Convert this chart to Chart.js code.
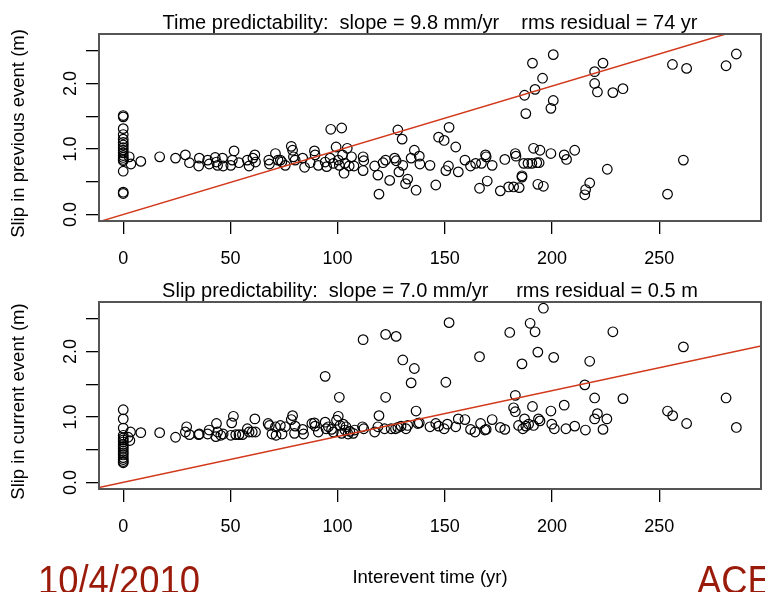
<!DOCTYPE html>
<html>
<head>
<meta charset="utf-8">
<script src="https://cdn.jsdelivr.net/npm/chart.js@4.4.1/dist/chart.umd.min.js"></script>
<style>
html, body { margin: 0; padding: 0; background: #fff; overflow: hidden; }
#wrap { position: relative; width: 765px; height: 592px; overflow: hidden; }
canvas { position: absolute; left: 0; }
#top { top: 0; }
#bottom { top: 268px; }
.stamp { position: absolute; font-family: "Liberation Sans", Arial, sans-serif; font-size: 40px; line-height: 1;
  color: #9b1b0b; white-space: nowrap; transform: scaleX(0.91); transform-origin: left top; }
</style>
</head>
<body>
<div id="wrap">
  <canvas id="top" width="767" height="268"></canvas>
  <canvas id="bottom" width="767" height="324"></canvas>
  <div class="stamp" style="left:38px; top:560px;">10/4/2010</div>
  <div class="stamp" style="left:697px; top:560px;">ACE</div>
</div>
<script>
// interevent time (yr) vs slip in previous event (m)
const prevTime = [
  0, 0, 0, 0, 0, 0, 0, 0, 0, 0, 0, 0, 0, 0, 0, 0, 0,
  2.8, 3.6, 8.2, 17, 24.4,
  29.0, 30.9, 35.5, 35.2, 39.4, 40.1, 42.9, 43.5, 44, 46.3,
  46.6, 50.2, 51.7, 50.9, 54, 57.9, 58.7, 60.5, 61.4, 61.7,
  67.9, 68.2, 71, 72.2, 73.3, 74, 75.6, 78.4, 79, 79.4,
  80.2, 83.7, 84.6, 87.2, 89.2, 89.5, 91,
  94.2, 94.9, 96.5, 96.8, 98, 99.3, 100.3, 100.8, 101.9, 102.3,
  103, 103.4, 104.5, 105.4, 106.5, 107.6, 111.9, 111.9, 112.2, 117.3,
  118.8, 119.3, 121.2, 122.4, 124.3, 126.6, 127.3, 128.1, 128.6, 130.1,
  130.4, 131.7, 132.7, 134.3, 135.8, 136.6, 138.1, 138.4, 143.1, 145.8,
  147.1, 149.7, 150.5, 151.7, 152, 155.1, 156.3, 159.4, 162, 164.4,
  166.2, 167.1, 169, 169.3, 169.8, 172.1, 175.9, 178, 179.8, 182.1,
  182.9, 183.2, 184.7, 186, 186, 186.8, 187.2, 187.8, 188.8, 190.6,
  190.9, 191.4, 192.1, 192.9, 193.4, 194, 194.4, 195.6, 196,
  200.6, 200.6, 199.5, 199.5, 205.7, 206.8, 210.6, 217.6, 215.7, 215.3,
  219.9, 223.8, 219.9, 221.2, 228.4, 233.1, 225.8, 256.2, 262.8, 261.3,
  253.9, 281.2, 286
];
const prevSlip = [
  1.51, 1.49, 1.31, 1.22, 1.15, 1.10, 1.06, 1.02, 0.98, 0.94, 0.90, 0.87, 0.84, 0.82, 0.66, 0.34, 0.32,
  0.88, 0.77, 0.81, 0.88, 0.86,
  0.91, 0.79, 0.86, 0.74, 0.83, 0.77, 0.87, 0.80, 0.75, 0.86,
  0.74, 0.75, 0.97, 0.83, 0.79, 0.83, 0.74, 0.86, 0.91, 0.80,
  0.83, 0.77, 0.93, 0.83, 0.83, 0.80, 0.75, 1.04, 0.98, 0.88,
  0.83, 0.86, 0.72, 0.79, 0.97, 0.91, 0.75,
  0.80, 0.73, 0.86, 1.30, 0.78, 1.03, 0.83, 0.75, 1.32, 0.91,
  0.63, 0.78, 1.01, 0.74, 0.88, 0.74, 0.88, 0.67, 0.82, 0.74,
  0.60, 0.31, 0.79, 0.83, 0.52, 0.86, 0.82, 1.29, 0.65, 1.15,
  0.75, 0.47, 0.54, 0.86, 0.98, 0.37, 0.89, 0.77, 0.75, 0.45,
  1.18, 1.13, 0.67, 0.74, 1.33, 1.03, 0.65, 0.83, 0.74, 0.78,
  0.40, 0.78, 0.91, 0.88, 0.51, 0.75, 0.36, 0.84, 0.42, 0.42,
  0.93, 0.89, 0.41, 0.59, 0.57, 0.78, 1.82, 1.54, 0.78, 0.78,
  2.31, 1.01, 1.91, 0.79, 0.46, 0.79, 0.98, 2.08, 0.43,
  2.44, 1.74, 1.62, 0.93, 0.91, 0.84, 0.98, 0.48, 0.38, 0.30,
  2.18, 2.31, 2.00, 1.87, 1.86, 1.92, 0.69, 2.29, 2.23, 0.83,
  0.31, 2.27, 2.45
];

// interevent time (yr) vs slip in current event (m)
const currTime = [
  0, 0, 0, 0, 0, 0, 0, 0, 0, 0, 0, 0, 0, 0, 0, 0, 0,
  2.3, 3.1, 3.4, 8.2, 17, 24.4,
  29, 29.6, 30.9, 35.2, 35.5, 39.4, 40.1, 43.2, 43.5, 44,
  45.5, 46.6, 50.2, 50.6, 51.4, 52.5, 54, 55.6, 57.9, 58.7,
  60.2, 61.4, 61.7, 67.6, 68.2, 69.4, 71, 71.3, 73.3, 74.1,
  75.6, 78.4, 79, 80.2, 79.9, 83.7, 84.1, 88, 89.2, 89.5, 91,
  94.2, 94.2, 94.6, 95.7, 97.2, 98, 99.5, 100.3, 100.8, 101.1,
  101.9, 102.6, 103.4, 103.9, 104.9, 105.7, 107.3, 108, 111.6, 111.9,
  112.2, 117.3, 118.8, 119.3, 121.9, 122.4, 122.4, 125, 127, 127.3,
  128.1, 129.6, 130.4, 131.9, 132.7, 134.3, 135.8, 136.6, 137.4, 138.1,
  143.1, 145.8, 147.1, 149.7, 150.5, 151.2, 152, 155.1, 156.3, 159.4,
  162, 164.1, 166.2, 166.7, 168.7, 169.3, 172.1, 175.9, 178, 180.3,
  182.1, 182.9, 182.9, 184.4, 186, 186.4, 187.2, 187.8, 189.1, 189.8,
  190.9, 191.4, 192.1, 193.4, 193.7, 194.4, 196,
  200.8, 217.6, 228.4, 261.3, 215.3, 199.5, 205.7, 199.9, 201.1, 206.5,
  210.6, 215.6, 219.9, 221.2, 219.9, 225.6, 223.8, 233.1, 253.9, 256.3,
  262.8, 281.2, 286
];
const currSlip = [
  1.11, 0.97, 0.83, 0.72, 0.68, 0.65, 0.62, 0.58, 0.55, 0.52, 0.48, 0.45, 0.42, 0.38, 0.35, 0.32, 0.30,
  0.69, 0.64, 0.77, 0.76, 0.76, 0.69,
  0.77, 0.85, 0.73, 0.73, 0.74, 0.74, 0.80, 0.70, 0.90, 0.77,
  0.72, 0.74, 0.72, 0.91, 1.01, 0.73, 0.73, 0.73, 0.82, 0.77,
  0.77, 0.97, 0.77, 0.90, 0.87, 0.74, 0.85, 0.72, 0.87, 0.74,
  0.85, 0.96, 1.02, 0.86, 0.75, 0.81, 0.74, 0.90, 0.91, 0.86, 0.77,
  1.62, 0.92, 0.82, 0.85, 0.81, 0.77, 0.95, 1.01, 1.30, 0.87,
  0.75, 0.89, 0.80, 0.85, 0.74, 0.78, 0.75, 0.80, 0.85, 2.18,
  0.82, 0.77, 0.85, 1.02, 0.82, 1.30, 2.26, 0.82, 0.82, 2.23,
  0.84, 0.86, 1.87, 0.82, 0.87, 1.52, 1.74, 1.09, 0.90, 0.91,
  0.85, 0.90, 0.86, 0.82, 1.53, 0.89, 2.44, 0.85, 0.97, 0.96,
  0.81, 0.77, 1.92, 0.90, 0.80, 0.81, 0.96, 0.84, 0.81, 2.29,
  1.14, 1.33, 1.08, 0.87, 1.81, 0.82, 0.97, 0.86, 0.89, 2.43,
  1.16, 0.87, 2.30, 1.99, 0.97, 0.94, 2.66,
  1.91, 1.85, 2.30, 2.07, 1.49, 1.09, 1.18, 0.89, 0.82, 0.82,
  0.86, 0.80, 1.29, 1.05, 0.97, 0.97, 0.81, 1.28, 1.09, 1.02,
  0.90, 1.29, 0.84
];

const prevSlope = 0.0098;   // m/yr
const currSlope = 0.0070;

const xTicks = [0, 50, 100, 150, 200, 250];
const yTicks = [0, 0.5, 1, 1.5, 2, 2.5];
const yTickLabels = ["0.0", "", "1.0", "", "2.0", ""];

const xMin = -11.3, xMax = 297.5;
const yMin = -0.1, yMax = 2.755;

const fontFamily = '"Liberation Sans", Arial, Helvetica, sans-serif';
Chart.defaults.font.family = fontFamily;
Chart.defaults.color = "#000";

const boxPlugin = {
  id: "box",
  afterDatasetsDraw(chart) {
    const a = chart.chartArea, ctx = chart.ctx;
    ctx.save();
    ctx.strokeStyle = "#555";
    ctx.lineWidth = 2;
    ctx.strokeRect(a.left, a.top, a.right - a.left, a.bottom - a.top);
    ctx.restore();
  }
};

// R writes y labels and the y title along the axis
const yTextPlugin = {
  id: "yText",
  afterDraw(chart, args, opts) {
    const s = chart.scales.y, a = chart.chartArea, ctx = chart.ctx;
    ctx.save();
    ctx.fillStyle = "#000";
    ctx.textAlign = "center";
    ctx.textBaseline = "middle";
    ctx.font = "18px " + fontFamily;
    for (let i = 0; i < yTicks.length; i++) {
      if (!yTickLabels[i]) continue;
      ctx.save();
      ctx.translate(71, s.getPixelForValue(yTicks[i]));
      ctx.rotate(-Math.PI / 2);
      ctx.fillText(yTickLabels[i], 0, 0);
      ctx.restore();
    }
    ctx.font = "18.5px " + fontFamily;
    ctx.translate(19, (a.top + a.bottom) / 2 + 6);
    ctx.rotate(-Math.PI / 2);
    ctx.fillText(opts.text, 0, 0);
    ctx.restore();
  }
};

function makePanel(id, times, slips, slope, title, yTitle, xTitle, xHeight) {
  let pts = [];
  for (let i = 0; i < times.length; i++) {
    pts.push({ x: times[i], y: slips[i] });
  }
  let fit = [{ x: xMin, y: slope * xMin }, { x: xMax, y: slope * xMax }];

  new Chart(document.getElementById(id), {
    type: "scatter",
    data: {
      datasets: [
        {
          data: fit,
          showLine: true,
          borderColor: "#d2381a",
          borderWidth: 1.5,
          pointRadius: 0,
          order: 0
        },
        {
          data: pts,
          pointStyle: "circle",
          pointRadius: 4.8,
          backgroundColor: "rgba(0,0,0,0)",
          borderColor: "#000",
          borderWidth: 1.2,
          order: 1
        }
      ]
    },
    options: {
      responsive: false,
      animation: false,
      events: [],
      layout: { padding: { left: 0, right: 1, top: 0, bottom: 0 } },
      plugins: {
        legend: { display: false },
        tooltip: { enabled: false },
        title: {
          display: true,
          text: title,
          fullSize: false,
          color: "#000",
          font: { size: 20, weight: "normal", lineHeight: 1 },
          padding: { top: 13.5, bottom: 0.5 }
        },
        yText: { text: yTitle }
      },
      scales: {
        x: {
          type: "linear",
          min: xMin,
          max: xMax,
          afterBuildTicks: s => { s.ticks = xTicks.map(v => ({ value: v })); },
          afterFit: s => { s.height = xHeight; },
          border: { display: false },
          grid: { drawOnChartArea: false, drawTicks: true, tickLength: 13, color: "#000", lineWidth: 1.3 },
          ticks: { font: { size: 18 }, padding: 14, maxRotation: 0, callback: v => String(v) },
          title: xTitle ? { display: true, text: xTitle, font: { size: 18.5 }, padding: { top: 0, bottom: 2.9 } } : { display: false }
        },
        y: {
          type: "linear",
          min: yMin,
          max: yMax,
          afterBuildTicks: s => { s.ticks = yTicks.map(v => ({ value: v })); },
          afterFit: s => { s.width = 99; },
          border: { display: false },
          grid: { drawOnChartArea: false, drawTicks: true, tickLength: 13, color: "#000", lineWidth: 1.3 },
          ticks: { display: false }
        }
      }
    },
    plugins: [boxPlugin, yTextPlugin]
  });
}

makePanel("top", prevTime, prevSlip, prevSlope,
  "Time predictability:  slope = 9.8 mm/yr    rms residual = 74 yr",
  "Slip in previous event (m)", "", 47);

makePanel("bottom", currTime, currSlip, currSlope,
  "Slip predictability:  slope = 7.0 mm/yr     rms residual = 0.5 m",
  "Slip in current event (m)", "Interevent time (yr)", 103);
</script>
</body>
</html>
